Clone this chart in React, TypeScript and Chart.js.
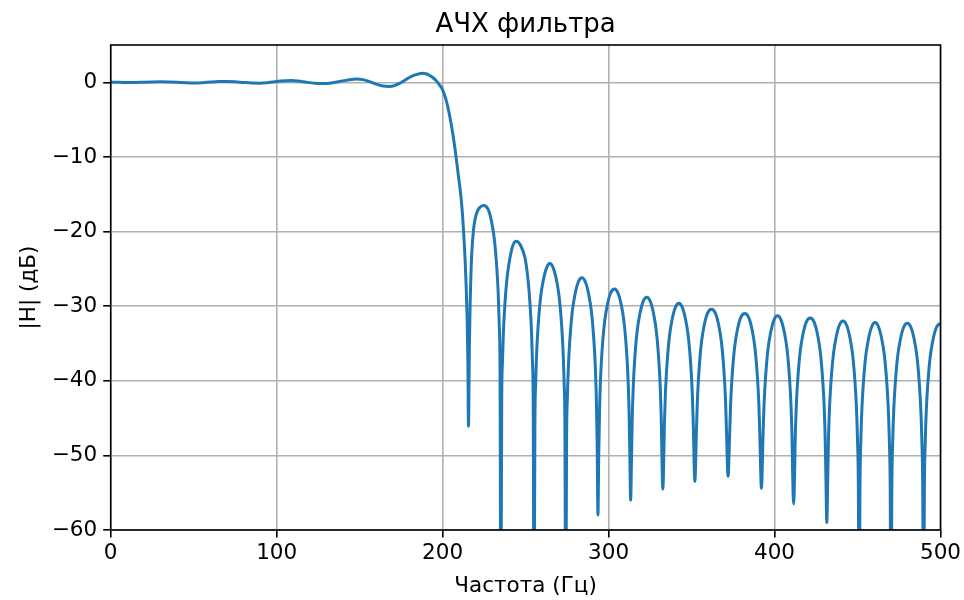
import { useEffect, useRef } from "react";
import { Chart, registerables } from "chart.js";

Chart.register(...registerables);

// ---- Text ----
const TITLE = "АЧХ фильтра";
const X_LABEL = "Частота (Гц)";
const Y_LABEL = "|H| (дБ)";

// ---- Axes ----
const X_MIN = 0;
const X_MAX = 500;
const Y_MIN = -60;
const Y_MAX = 5;
const X_TICKS = [0, 100, 200, 300, 400, 500];
const X_TICK_LABELS = ["0", "100", "200", "300", "400", "500"];
const Y_TICKS = [-60, -50, -40, -30, -20, -10, 0];
const Y_TICK_LABELS = ["−60", "−50", "−40", "−30", "−20", "−10", "0"];

// ---- Data: passband and transition (Hz, dB) ----
const PASS_FREQ = [
  0, 5, 10, 15, 20, 25, 30, 35, 40, 45,
  50, 55, 60, 65, 70, 75, 80, 85, 90, 95,
  100, 105, 109, 113, 118, 123, 128, 133, 138, 143,
  148, 152, 156, 160, 164, 168, 171, 174, 177, 180,
  183, 186, 188, 190, 192, 194, 196, 198,
  200, 202, 204, 206, 208, 209.5, 211, 212, 212.8, 213.6, 214.3, 214.8, 215.2,
];
const PASS_DB = [
  0, 0, -0.04, -0.02, 0.02, 0.05, 0.06, 0.04, 0, -0.05,
  -0.08, -0.05, 0.03, 0.1, 0.12, 0.08, -0.02, -0.1, -0.12, -0.04,
  0.1, 0.2, 0.25, 0.17, 0, -0.13, -0.17, -0.08, 0.12, 0.32,
  0.44, 0.36, 0.1, -0.25, -0.5, -0.56, -0.45, -0.15, 0.25, 0.65,
  0.95, 1.15, 1.2, 1.15, 0.95, 0.65, 0.25, -0.3,
  -1.0, -2.3, -4.2, -6.7, -9.8, -12.5, -15.2, -17.8, -20.6, -24.0, -28.0, -32.0, -37.0,
];

// ---- Data: stopband side lobes (each row starts at a null) ----
const LOBE_FREQ = [
  [215.6, 216.1, 216.6, 217.1, 217.6, 218.6, 219.6, 221.1, 222.8, 224.5, 227.6, 229.6, 231.1, 232.1, 233.1, 233.6, 234.1, 234.6],
  [235.1, 235.6, 236.1, 236.6, 237.1, 238.1, 239.1, 240.6, 242.3, 244.3, 247.1, 249.6, 251.1, 252.1, 253.1, 253.6, 254.1, 254.6],
  [255.1, 255.6, 256.1, 256.6, 257.1, 258.1, 259.1, 260.6, 262.6, 264.6, 266.7, 268.7, 270.2, 271.2, 272.2, 272.7, 273.2, 273.7],
  [274.2, 274.7, 275.2, 275.7, 276.2, 277.2, 278.2, 279.7, 281.7, 283.9, 286.1, 288.1, 289.6, 290.6, 291.6, 292.1, 292.6, 293.1],
  [293.6, 294.1, 294.6, 295.1, 295.6, 296.6, 297.6, 299.1, 301.1, 303.5, 305.8, 307.8, 309.3, 310.3, 311.3, 311.8, 312.3, 312.8],
  [313.3, 313.8, 314.3, 314.8, 315.3, 316.3, 317.3, 318.8, 320.8, 323.0, 325.2, 327.2, 328.7, 329.7, 330.7, 331.2, 331.7],
  [332.7, 333.7, 334.2, 334.7, 335.7, 336.7, 338.2, 340.2, 342.4, 344.5, 346.5, 348.0, 349.0, 350.0, 350.5, 351.0],
  [352.0, 353.0, 353.5, 354.0, 355.0, 356.0, 357.5, 359.5, 362.0, 364.5, 366.5, 368.0, 369.0, 370.0, 370.5, 371.0],
  [372.0, 373.0, 373.5, 374.0, 375.0, 376.0, 377.5, 379.5, 382.0, 384.6, 386.6, 388.1, 389.1, 390.1, 390.6, 391.1],
  [392.1, 393.1, 393.6, 394.1, 395.1, 396.1, 397.6, 399.6, 401.8, 404.0, 406.0, 407.5, 408.5, 409.5, 410.0, 410.5, 411.0],
  [411.5, 412.0, 412.5, 413.0, 413.5, 414.5, 415.5, 417.0, 419.0, 421.5, 424.0, 426.0, 427.5, 428.5, 429.5, 430.0, 430.5, 431.0],
  [431.5, 432.0, 432.5, 433.0, 433.5, 434.5, 435.5, 437.0, 439.0, 441.3, 443.5, 445.5, 447.0, 448.0, 449.0, 449.5, 450.0, 450.5],
  [451.0, 451.5, 452.0, 452.5, 453.0, 454.0, 455.0, 456.5, 458.5, 460.6, 462.7, 464.7, 466.2, 467.2, 468.2, 468.7, 469.2, 469.7],
  [470.2, 470.7, 471.2, 471.7, 472.2, 473.2, 474.2, 475.7, 477.7, 480.0, 482.3, 484.3, 485.8, 486.8, 487.8, 488.3, 488.8, 489.3],
  [489.8, 490.3, 490.8, 491.3, 491.8, 492.8, 493.8, 495.3, 497.3, 499.6, 500],
];
const LOBE_DB = [
  [-46.1, -36, -29.5, -25.5, -22.8, -19.8, -18.3, -17.2, -16.7, -16.5, -17.1, -18.8, -20.9, -23.2, -26.5, -28.9, -32.4, -38.4],
  [-75, -43.2, -37.2, -33.7, -31.3, -28.0, -25.7, -23.5, -21.9, -21.3, -21.9, -23.5, -25.7, -28.0, -31.3, -33.7, -37.2, -43.2],
  [-75, -46.2, -40.2, -36.7, -34.3, -31.0, -28.7, -26.6, -24.9, -24.3, -24.9, -26.6, -28.7, -31.0, -34.3, -36.7, -40.2, -46.2],
  [-75, -48.1, -42.1, -38.6, -36.2, -32.9, -30.6, -28.5, -26.8, -26.2, -26.8, -28.5, -30.6, -32.9, -36.2, -38.6, -42.1, -48.1],
  [-58.0, -49.6, -43.6, -40.1, -37.7, -34.4, -32.1, -30.0, -28.3, -27.7, -28.3, -30.0, -32.1, -34.4, -37.7, -40.1, -43.6, -49.6],
  [-56.0, -50.7, -44.7, -41.2, -38.8, -35.5, -33.2, -31.1, -29.4, -28.8, -29.4, -31.1, -33.2, -35.5, -38.8, -41.2, -44.7],
  [-54.5, -45.5, -42.0, -39.6, -36.3, -34.0, -31.9, -30.2, -29.6, -30.2, -31.9, -34.0, -36.3, -39.6, -42.0, -45.5],
  [-53.5, -46.3, -42.8, -40.4, -37.1, -34.8, -32.7, -31.0, -30.4, -31.0, -32.7, -34.8, -37.1, -40.4, -42.8, -46.3],
  [-52.8, -46.9, -43.4, -41.0, -37.7, -35.4, -33.3, -31.6, -31.0, -31.6, -33.3, -35.4, -37.7, -41.0, -43.4, -46.9],
  [-54.4, -47.2, -43.7, -41.3, -38.0, -35.7, -33.6, -31.9, -31.3, -31.9, -33.6, -35.7, -38.0, -41.3, -43.7, -47.2, -53.2],
  [-56.5, -53.5, -47.5, -44.0, -41.6, -38.3, -36.0, -33.9, -32.2, -31.6, -32.2, -33.9, -36.0, -38.3, -41.6, -44.0, -47.5, -53.5],
  [-59.0, -53.9, -47.9, -44.4, -42.0, -38.7, -36.4, -34.3, -32.6, -32.0, -32.6, -34.3, -36.4, -38.7, -42.0, -44.4, -47.9, -53.9],
  [-75, -54.1, -48.1, -44.6, -42.2, -38.9, -36.6, -34.5, -32.8, -32.2, -32.8, -34.5, -36.6, -38.9, -42.2, -44.6, -48.1, -54.1],
  [-75, -54.2, -48.2, -44.7, -42.3, -39.0, -36.7, -34.6, -32.9, -32.3, -32.9, -34.6, -36.7, -39.0, -42.3, -44.7, -48.2, -54.2],
  [-75, -54.3, -48.3, -44.8, -42.4, -39.1, -36.8, -34.7, -33.0, -32.4, -32.4],
];

const FONT = "DejaVu Sans";
const LINE_COLOR = "#1f77b4";
const GRID_COLOR = "#b0b0b0";

const framePlugin = {
  id: "mplFrame",
  afterDatasetsDraw(chart: any) {
    const { ctx, chartArea: a } = chart;
    ctx.save();
    ctx.strokeStyle = "#000";
    ctx.lineWidth = 1.6;
    ctx.strokeRect(a.left, a.top, a.right - a.left, a.bottom - a.top);
    ctx.fillStyle = "#000";
    ctx.font = `26px "${FONT}"`;
    ctx.textAlign = "center";
    ctx.textBaseline = "alphabetic";
    ctx.fillText(TITLE, (a.left + a.right) / 2, a.top - 13.5);
    ctx.restore();
  },
};

export default function App() {
  const ref = useRef<HTMLCanvasElement | null>(null);

  useEffect(() => {
    document.body.style.margin = "0";
    const canvas = ref.current;
    if (!canvas) return;

    const freq = PASS_FREQ.concat(...LOBE_FREQ);
    const db = PASS_DB.concat(...LOBE_DB);
    const points = freq.map((f, i) => ({ x: f, y: db[i] }));

    const tickFont = { family: FONT, size: 21.5 };

    const chart = new Chart(canvas, {
      type: "line",
      data: {
        datasets: [
          {
            data: points,
            borderColor: LINE_COLOR,
            borderWidth: 3,
            pointRadius: 0,
            pointHoverRadius: 0,
            cubicInterpolationMode: "monotone",
            borderJoinStyle: "round",
            fill: false,
            clip: 0,
          } as any,
        ],
      },
      options: {
        responsive: false,
        devicePixelRatio: 1,
        animation: false,
        events: [],
        layout: { padding: { top: 45, right: 21.8, bottom: 0, left: 0 } },
        plugins: {
          legend: { display: false },
          tooltip: { enabled: false },
          title: { display: false },
        },
        scales: {
          x: {
            type: "linear",
            min: X_MIN,
            max: X_MAX,
            afterBuildTicks: (s: any) => {
              s.ticks = X_TICKS.map((v) => ({ value: v }));
            },
            afterFit: (s: any) => {
              s.height = 70;
            },
            ticks: {
              autoSkip: false,
              maxRotation: 0,
              padding: 3,
              color: "#000",
              font: tickFont,
              callback: (v: any) => X_TICK_LABELS[X_TICKS.indexOf(Number(v))],
            },
            grid: {
              color: GRID_COLOR,
              lineWidth: 1.6,
              drawTicks: true,
              tickLength: 7.5,
              tickColor: "#000",
              tickWidth: 1.6,
            },
            border: { display: false },
            title: {
              display: true,
              text: X_LABEL,
              color: "#000",
              font: tickFont,
              padding: { top: 0, bottom: 1 },
            },
          },
          y: {
            type: "linear",
            min: Y_MIN,
            max: Y_MAX,
            afterBuildTicks: (s: any) => {
              s.ticks = Y_TICKS.map((v) => ({ value: v }));
            },
            afterFit: (s: any) => {
              s.width = 110.7;
            },
            ticks: {
              autoSkip: false,
              padding: 6,
              color: "#000",
              font: tickFont,
              callback: (v: any) => Y_TICK_LABELS[Y_TICKS.indexOf(Number(v))],
            },
            grid: {
              color: GRID_COLOR,
              lineWidth: 1.6,
              drawTicks: true,
              tickLength: 7.5,
              tickColor: "#000",
              tickWidth: 1.6,
            },
            border: { display: false },
            title: {
              display: true,
              text: Y_LABEL,
              color: "#000",
              font: tickFont,
              padding: { top: 17, bottom: 0 },
            },
          },
        },
      } as any,
      plugins: [framePlugin],
    });

    return () => chart.destroy();
  }, []);

  return (
    <div style={{ width: 964, height: 600, background: "#fff" }}>
      <canvas ref={ref} width={964} height={600} style={{ display: "block" }} />
    </div>
  );
}
